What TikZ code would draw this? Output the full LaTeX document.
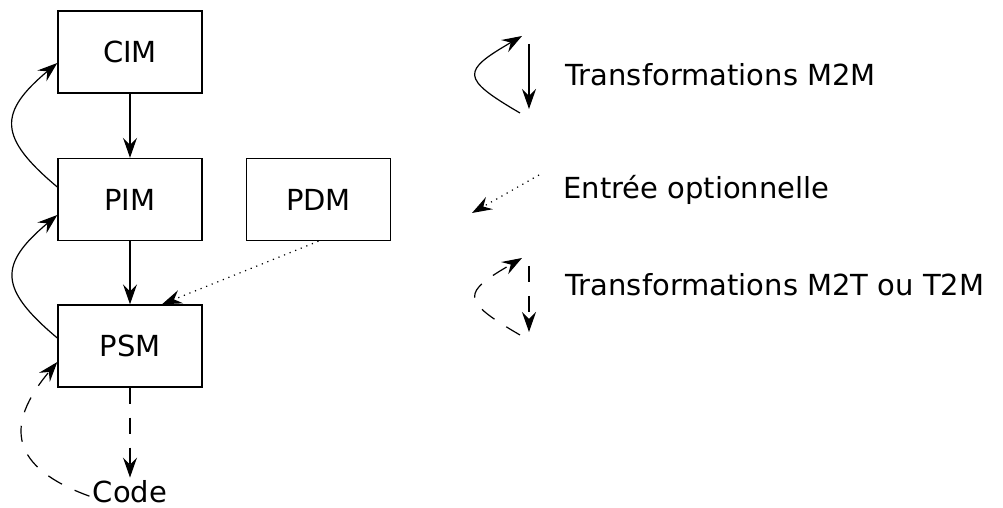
\documentclass[tikz,border=0pt]{standalone}
\usepackage{fontspec}
\setmainfont{DejaVu Sans}
\usetikzlibrary{arrows.meta}

\tikzset{
  model/.style={draw, line width=0.7pt, minimum width=72pt, minimum height=41pt, inner sep=0pt},
  flow/.style={-{Stealth[length=10pt,width=7pt,inset=3.5pt]}, line width=0.6pt},
  gen/.style={flow, dash pattern=on 8pt off 7pt},
  opt/.style={flow, dash pattern=on 0.6pt off 2.4pt},
  legend/.style={anchor=base west, inner sep=0pt},
}

\begin{document}
\begin{tikzpicture}[x=0.5pt, y=0.5pt, font=\fontsize{14.5pt}{17pt}\selectfont]
\useasboundingbox (0,0) rectangle (1003,508);
% models
\node[model] (cim) at (130,456) {CIM};
\node[model] (pim) at (130,308.5) {PIM};
\node[model] (psm) at (130,162) {PSM};
\node[model] (pdm) at (318.5,308.5) {PDM};
\node[anchor=base, inner sep=1.5pt] (code) at (130,5) {Code};
% chain
\draw[flow] (cim) -- (pim);
\draw[flow] (pim) -- (psm);
\draw[gen] (psm) -- (code);
\draw[opt] (pdm.south) -- ([xshift=16pt]psm.north);
% back transformations
\draw[flow] ([yshift=6.25pt]pim.west) to[out=140, in=220, looseness=1.6] ([yshift=-5.5pt]cim.west);
\draw[flow] ([yshift=4pt]psm.west) to[out=140, in=220, looseness=1.6] ([yshift=-7.75pt]pim.west);
\draw[gen] ([yshift=-2pt]code.west) to[out=160, in=230, looseness=1.55] ([yshift=-8pt]psm.west);
% legend
\coordinate (m2m-a) at (520,395);
\coordinate (m2m-b) at (522,472);
\coordinate (m2m-c) at (529,464);
\coordinate (m2m-d) at (529,399);
\draw[flow] (m2m-a) .. controls (460,430) and (462,437) .. (m2m-b);
\draw[flow] (m2m-c) -- (m2m-d);
\node[legend] (m2m) at (565,422) {Transformations M2M};
\coordinate (opt-a) at (539,333);
\coordinate (opt-b) at (472,295);
\draw[opt] (opt-a) -- (opt-b);
\node[legend] (optional) at (563,309) {Entrée optionnelle};
\coordinate (m2t-a) at (520,173);
\coordinate (m2t-b) at (522,250);
\coordinate (m2t-c) at (529,242);
\coordinate (m2t-d) at (529,176);
\draw[gen] (m2t-a) .. controls (460,208) and (462,215) .. (m2t-b);
\draw[gen] (m2t-c) -- (m2t-d);
\node[legend] (m2t) at (565,212) {Transformations M2T ou T2M};
\end{tikzpicture}
\end{document}
